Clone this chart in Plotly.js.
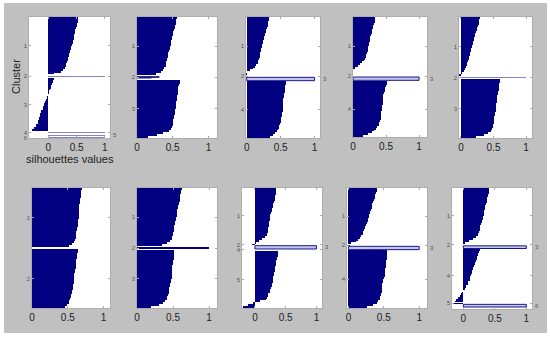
<!DOCTYPE html>
<html><head><meta charset="utf-8">
<script src="https://cdn.plot.ly/plotly-3.0.1.min.js"></script>
<style>html,body{margin:0;padding:0;background:#fff}#chart{width:550px;height:339px}</style>
</head><body><div id="chart"></div>
<script>
// ===== DATA: silhouette values per cluster, sorted top to bottom =====
const p1Sizes = [172, 3, 158, 3, 3, 3];
const p1Values = [
  [.53,.52,.52,.51,.50,.49,.48,.48,.47,.46,.45,.45,.44,.43,.42,.41,.40,.39,.38,.37,.36,.35,.34,.33,.32,.31,.29,.26,.22,.10],
  [1.0],
  [.10,.09,.08,.06,.05,.04,.03,.02,.01,-.01,-.02,-.03,-.04,-.05,-.07,-.08,-.09,-.10,-.12,-.13,-.14,-.15,-.16,-.17,-.18,-.19,-.21,-.22,-.25,-.28],
  [1.0], [1.0], [1.0]
];
const p2Sizes = [174, 4, 175];
const p2Values = [
  [.56,.55,.55,.54,.53,.53,.52,.51,.51,.50,.49,.49,.48,.47,.47,.46,.46,.45,.44,.44,.43,.42,.42,.41,.41,.40,.38,.36,.33,.27],
  [0.31, 0.20],
  [.60,.60,.59,.58,.58,.58,.57,.57,.56,.56,.56,.55,.55,.54,.54,.53,.53,.53,.52,.52,.51,.51,.51,.50,.49,.48,.45,.37,.28,.15]
];
const p3Sizes = [174, 2, 10, 169];
const p3Values = [
  [.33,.33,.32,.31,.31,.30,.29,.28,.27,.27,.26,.25,.24,.24,.23,.22,.21,.21,.20,.20,.19,.18,.17,.16,.14,.12,.09,.05,.01,-.06],
  [-0.08],
  [1.0],
  [.58,.58,.57,.57,.56,.56,.55,.55,.55,.54,.54,.54,.53,.53,.53,.53,.52,.52,.52,.51,.51,.50,.49,.48,.47,.46,.44,.42,.39,.35]
];
const p4Sizes = [174, 2, 10, 168];
const p4Values = [
  [.34,.34,.33,.32,.31,.30,.29,.28,.28,.27,.26,.25,.25,.24,.24,.23,.22,.22,.21,.20,.19,.18,.16,.13,.10,.07,.03,-.01,-.04,-.07],
  [-0.09],
  [1.0],
  [.52,.51,.50,.49,.48,.48,.47,.46,.46,.46,.45,.45,.45,.44,.44,.44,.43,.43,.43,.43,.42,.41,.40,.39,.37,.35,.32,.28,.22,.15]
];
const p5Sizes = [176, 3, 176];
const p5Values = [
  [.29,.28,.28,.27,.26,.25,.24,.23,.22,.21,.20,.20,.19,.18,.17,.17,.16,.15,.14,.14,.13,.12,.11,.10,.09,.08,.06,.04,.01,-.05],
  [1.0],
  [.60,.60,.59,.59,.58,.58,.57,.57,.56,.56,.55,.55,.54,.54,.53,.53,.53,.52,.52,.51,.51,.50,.50,.49,.49,.48,.46,.42,.35,.23]
];
const p6Sizes = [178, 178];
const p6Values = [
  [.70,.69,.69,.68,.68,.67,.67,.67,.66,.66,.66,.66,.66,.65,.65,.65,.64,.64,.64,.64,.63,.63,.62,.62,.62,.61,.60,.59,.56,.51],
  [.64,.64,.63,.63,.63,.62,.62,.62,.61,.61,.60,.60,.59,.59,.59,.58,.58,.58,.57,.57,.57,.56,.56,.55,.54,.53,.52,.51,.49,.46]
];
const p7Sizes = [175, 4, 175];
const p7Values = [
  [.62,.61,.61,.60,.60,.59,.59,.58,.58,.57,.57,.56,.56,.55,.55,.54,.54,.53,.53,.52,.52,.51,.51,.50,.50,.49,.48,.46,.41,.34],
  [1.0],
  [.52,.52,.51,.51,.51,.50,.50,.50,.49,.49,.49,.48,.48,.48,.48,.47,.47,.46,.46,.45,.45,.44,.44,.43,.42,.41,.39,.36,.31,.20]
];
const p8Sizes = [168, 2, 10, 2, 172];
const p8Values = [
  [.35,.35,.34,.34,.33,.32,.32,.31,.30,.30,.29,.28,.27,.26,.25,.25,.24,.24,.23,.23,.23,.22,.22,.21,.20,.19,.16,.11,.06,.02],
  [-0.05],
  [1.0],
  [1.0],
  [.38,.38,.37,.36,.36,.35,.34,.34,.33,.32,.32,.31,.31,.30,.30,.30,.29,.28,.27,.26,.25,.24,.22,.21,.20,.18,.09,-.03,-.12,-.20]
];
const p9Sizes = [170, 2, 10, 174];
const p9Values = [
  [.40,.40,.39,.38,.38,.37,.36,.35,.34,.34,.33,.32,.31,.30,.29,.29,.28,.27,.26,.25,.24,.23,.22,.21,.20,.18,.16,.14,.10,.03],
  [0.02],
  [1.0],
  [.55,.55,.55,.54,.54,.53,.53,.53,.53,.52,.52,.52,.51,.51,.50,.49,.49,.48,.48,.47,.47,.47,.46,.46,.45,.44,.42,.40,.35,.26]
];
const p10Sizes = [168, 2, 8, 160, 2, 8];
const p10Values = [
  [.41,.41,.40,.39,.39,.38,.37,.37,.36,.35,.35,.34,.33,.32,.32,.31,.31,.30,.29,.28,.27,.27,.26,.25,.24,.23,.20,.16,.09,.02],
  [-0.02],
  [1.0],
  [.26,.25,.24,.23,.22,.21,.20,.19,.18,.17,.16,.15,.14,.13,.12,.11,.11,.10,.08,.07,.05,.04,.02,.00,-.02,-.04,-.06,-.08,-.11,-.14],
  [-0.17],
  [1.0]
];
const xTickVals = [0, 0.5, 1];
const xTickText = ['0', '0.5', '1'];
const yTitle = 'Cluster';
const xTitle = 'silhouettes values';

// ===== LAYOUT / STYLE (pixel boxes of each axes in the 550x339 picture) =====
const W = 550, H = 339;
const panels = [
  {sizes:p1Sizes, values:p1Values, gap:4, pad:0, xr:[-0.34,1.09], box:[29,17,110,138], right:[5], styles:{2:'line',4:'line',5:'line',6:'line'}},
  {sizes:p2Sizes, values:p2Values, gap:5, pad:0, xr:[0,1.12], box:[137,17,217,138], right:[], styles:{2:'band'}},
  {sizes:p3Sizes, values:p3Values, gap:2, pad:0, xr:[-0.01,1.08], box:[246,17,320,138], right:[3], styles:{3:'band'}},
  {sizes:p4Sizes, values:p4Values, gap:2, pad:0, xr:[0,1.12], box:[353,17,427,137], right:[3], styles:{3:'band'}},
  {sizes:p5Sizes, values:p5Values, gap:3, pad:0, xr:[-0.03,1.09], box:[459,17,532,138], right:[], styles:{2:'line'}},
  {sizes:p6Sizes, values:p6Values, gap:6, pad:0, xr:[0,1.09], box:[32,188,110,308], right:[], styles:{}},
  {sizes:p7Sizes, values:p7Values, gap:4, pad:0, xr:[0,1.11], box:[137,188,217,308], right:[], styles:{}},
  {sizes:p8Sizes, values:p8Values, gap:2, pad:0, xr:[-0.21,1.09], box:[242,188,322,308], right:[3], styles:{3:'band'}},
  {sizes:p9Sizes, values:p9Values, gap:2, pad:0, xr:[-0.02,1.11], box:[347,188,427,308], right:[3], styles:{3:'band'}},
  {sizes:p10Sizes, values:p10Values, gap:2, pad:6, xr:[-0.18,1.09], box:[452,188,532,309], right:[3,6], styles:{3:'band',6:'band'}}
];
const NAVY = '#000080';
const styleMap = {
  fill: {color: NAVY, line: {width: 0}},
  line: {color: '#8484c4', line: {width: 0}},
  band: {color: '#c6c6ec', line: {color: NAVY, width: 0.9}}
};

const traces = [];
const layout = {
  width: W, height: H,
  margin: {l:0, r:0, t:0, b:0},
  paper_bgcolor: '#ffffff',
  plot_bgcolor: '#ffffff',
  barmode: 'overlay', bargap: 0, bargroupgap: 0,
  showlegend: false,
  font: {family: 'Liberation Sans, Arial, sans-serif', color: '#222'},
  shapes: [{type:'rect', xref:'paper', yref:'paper', x0:4/W, x1:547/W, y0:(H-333)/H, y1:(H-3)/H,
            fillcolor:'#c0c0c0', line:{width:0}, layer:'below'}],
  annotations: [
    {text: yTitle, xref:'paper', yref:'paper', x:16/W, y:(H-77)/H, textangle:-90, showarrow:false,
     font:{size:11, color:'#222'}, xanchor:'center', yanchor:'middle'},
    {text: xTitle, xref:'paper', yref:'paper', x:70/W, y:(H-159)/H, showarrow:false,
     font:{size:11, color:'#222'}, xanchor:'center', yanchor:'middle'}
  ]
};

panels.forEach((p, idx) => {
  const k = idx + 1;
  const xa = 'x' + (k === 1 ? '' : k), ya = 'y' + (k === 1 ? '' : k);
  layout.shapes.push({type:'rect', xref: xa + ' domain', yref: ya + ' domain', x0:0, x1:1, y0:0, y1:1,
    fillcolor:'#ffffff', line:{width:0}, layer:'below'});
  let pos = 0;
  const centers = [];
  p.values.forEach((vals, c) => {
    const size = p.sizes[c];
    const w = size / vals.length;
    const ys = vals.map((v, i) => pos + w * (i + 0.5));
    const st = styleMap[p.styles[c + 1] || 'fill'];
    traces.push({type:'bar', orientation:'h', x: vals, y: ys, width: w,
      xaxis: xa, yaxis: ya, marker: st, hoverinfo:'skip', showlegend:false});
    centers.push(pos + size / 2);
    pos += size + p.gap;
  });
  const total = pos - p.gap + p.pad;
  const leftVals = [], leftText = [];
  centers.forEach((cy, c) => {
    if (p.right.indexOf(c + 1) === -1) { leftVals.push(cy); leftText.push(String(c + 1)); }
    else {
      layout.annotations.push({text: String(c + 1), xref: xa + ' domain', yref: ya, x: 1, y: cy,
        xanchor:'left', yanchor:'middle', xshift: 1, showarrow:false, font:{size:6, color:'#555'}});
    }
  });
  const [x0, y0, x1, y1] = p.box;
  const axCommon = {showgrid:false, zeroline:false, showline:true, linecolor:'#a8a8a8', linewidth:0.8,
    mirror:'allticks', ticks:'inside', ticklen:2, tickcolor:'#a8a8a8', fixedrange:true};
  layout['xaxis' + (k === 1 ? '' : k)] = Object.assign({}, axCommon, {
    domain: [x0 / W, x1 / W], anchor: ya, range: p.xr,
    tickmode:'array', tickvals: xTickVals, ticktext: xTickText,
    tickfont: {size: 10, color: '#222'}
  });
  layout['yaxis' + (k === 1 ? '' : k)] = Object.assign({}, axCommon, {
    domain: [(H - y1) / H, (H - y0) / H], anchor: xa, range: [total, 0],
    tickmode:'array', tickvals: leftVals, ticktext: leftText,
    tickfont: {size: 6, color: '#555'}
  });
});

Plotly.newPlot('chart', traces, layout, {staticPlot: true, displayModeBar: false});
</script>
</body></html>
